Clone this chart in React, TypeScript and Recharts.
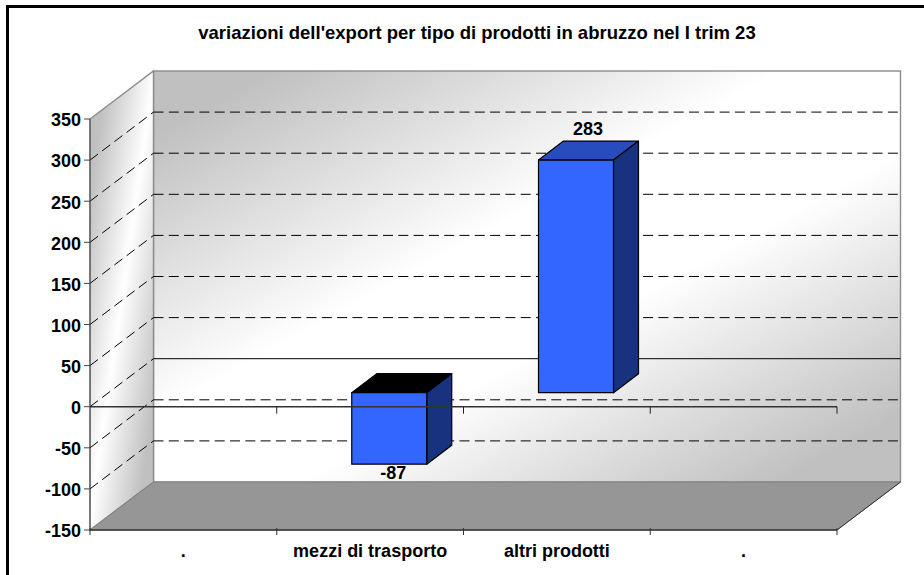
import React from 'react';
import { BarChart, Bar, XAxis, YAxis, ReferenceArea, ReferenceLine, LabelList } from 'recharts';

const categories = ['.', 'mezzi di trasporto', 'altri prodotti', '.'];
const values: (number | null)[] = [null, -87, 283, null];
const yTicks = [-150, -100, -50, 0, 50, 100, 150, 200, 250, 300, 350];
const gridValues = [-100, -50, 0, 50, 100, 150, 200, 250, 300];
const titleText = "variazioni dell'export per tipo di prodotti in abruzzo nel I trim 23";

const data = categories.map((c, i) => ({ key: i, name: c, value: values[i] }));

const FONT = '"Liberation Sans", Arial, sans-serif';
const DEPTH_X = 63.5;
const DEPTH_Y = 48;
const BAR_SHIFT_X = 19;
const BAR_SHIFT_Y = 14;
const BAR_DEPTH_X = 25;
const BAR_DEPTH_Y = 19;

function Walls(props: any) {
  const { x, y, width, height } = props;
  const r = x + width;
  const b = y + height;
  const bx = x + DEPTH_X;
  const by = y - DEPTH_Y;
  const bb = b - DEPTH_Y;
  const br = r + DEPTH_X;
  return (
    <g>
      <defs>
        <linearGradient id="backWall" gradientUnits="userSpaceOnUse" x1={354} y1={-39} x2={700} y2={591}>
          <stop offset="0.08" stopColor="#c0c0c0" />
          <stop offset="0.42" stopColor="#ffffff" />
          <stop offset="0.6" stopColor="#ffffff" />
          <stop offset="0.92" stopColor="#c0c0c0" />
        </linearGradient>
        <linearGradient id="sideWall" gradientUnits="userSpaceOnUse" x1={66} y1={292} x2={177} y2={308}>
          <stop offset="0.08" stopColor="#c0c0c0" />
          <stop offset="0.5" stopColor="#ffffff" />
          <stop offset="0.92" stopColor="#c0c0c0" />
        </linearGradient>
      </defs>
      <rect x={bx} y={by} width={width} height={height} fill="url(#backWall)" stroke="#8c8c8c" strokeWidth={1.4} />
      <polygon points={`${x},${y} ${bx},${by} ${bx},${bb} ${x},${b}`} fill="url(#sideWall)" stroke="#8c8c8c" strokeWidth={1.4} />
      <polygon points={`${x},${b} ${r},${b} ${br},${bb} ${bx},${bb}`} fill="#969696" stroke="#808080" strokeWidth={1} />
      <line x1={r} y1={b} x2={br} y2={bb} stroke="#333" strokeWidth={1} />
    </g>
  );
}

function GridPair(props: any) {
  const { x1, x2, y1 } = props;
  const solid = props.solid;
  return (
    <g>
      <line x1={x1} y1={y1} x2={x1 + DEPTH_X} y2={y1 - DEPTH_Y} stroke="#000" strokeWidth={1} strokeDasharray="10 5.3" />
      <line
        x1={x1 + DEPTH_X}
        y1={y1 - DEPTH_Y}
        x2={x2 + DEPTH_X}
        y2={y1 - DEPTH_Y}
        stroke="#000"
        strokeWidth={1}
        strokeDasharray={solid ? undefined : '10 5.3'}
      />
    </g>
  );
}

function ZeroAxis(props: any) {
  const { x1, x2, y1 } = props;
  const band = (x2 - x1) / categories.length;
  return (
    <g>
      <line x1={x1} y1={y1} x2={x2} y2={y1} stroke="#333" strokeWidth={1.6} />
      {categories.map((_, i) => (
        <line key={i} x1={x1 + band * (i + 1)} y1={y1} x2={x1 + band * (i + 1)} y2={y1 + 7} stroke="#222" strokeWidth={1} />
      ))}
    </g>
  );
}

function Bar3D(props: any) {
  const { x, y, width, height, value } = props;
  if (value == null || !height) return null;
  const v = Array.isArray(value) ? value[1] : value;
  const top = Math.min(y, y + height) - BAR_SHIFT_Y;
  const h = Math.abs(height);
  const l = x + BAR_SHIFT_X;
  const r = l + width;
  const dx = BAR_DEPTH_X;
  const dy = BAR_DEPTH_Y;
  const topFill = v < 0 ? '#000000' : '#264cbf';
  return (
    <g stroke="#000" strokeWidth={1.2} strokeLinejoin="round">
      <polygon points={`${l},${top} ${r},${top} ${r + dx},${top - dy} ${l + dx},${top - dy}`} fill={topFill} />
      <polygon points={`${r},${top} ${r + dx},${top - dy} ${r + dx},${top + h - dy} ${r},${top + h}`} fill="#19327f" />
      <rect x={l} y={top} width={width} height={h} fill="#3366ff" />
    </g>
  );
}

function ValueLabel(props: any) {
  const { x, y, width, height, value } = props;
  if (value == null) return null;
  const isNeg = value < 0;
  const top = Math.min(y, y + height) - BAR_SHIFT_Y;
  const h = Math.abs(height);
  const cx = x + BAR_SHIFT_X + width / 2 + (isNeg ? 4 : BAR_DEPTH_X / 2 - 0.5);
  const ty = isNeg ? top + h + 9 : top - BAR_DEPTH_Y - 12;
  return (
    <text x={cx} y={ty} textAnchor="middle" dominantBaseline="central" fontFamily={FONT} fontWeight="bold" fontSize={18} fill="#000">
      {value}
    </text>
  );
}

function XTick(props: any) {
  const { x, y, width, index, payload } = props;
  const band = width / categories.length;
  const left = x - band / 2;
  const axisY = y - 8;
  return (
    <g>
      <line x1={left} y1={axisY} x2={left} y2={axisY + 7} stroke="#333" strokeWidth={1} />
      {index === categories.length - 1 && (
        <line x1={left + band} y1={axisY} x2={left + band} y2={axisY + 7} stroke="#333" strokeWidth={1} />
      )}
      <text x={x} y={axisY + 23} textAnchor="middle" dominantBaseline="central" fontFamily={FONT} fontWeight="bold" fontSize={18} fill="#000">
        {categories[payload.value]}
      </text>
    </g>
  );
}

export default function App() {
  return (
    <div style={{ position: 'absolute', left: 0, top: 0, width: 924, height: 575, overflow: 'hidden', background: '#fff' }}>
      <div style={{ position: 'absolute', left: 6, top: 5, width: 918, height: 570, borderLeft: '3px solid #000', borderTop: '3px solid #000' }} />
      <div
        style={{
          position: 'absolute',
          left: 0,
          width: 954,
          top: 23,
          textAlign: 'center',
          fontFamily: FONT,
          fontWeight: 'bold',
          fontSize: 18.5,
          lineHeight: '20px',
          color: '#000',
        }}
      >
        {titleText}
      </div>
      <BarChart
        width={924}
        height={575}
        data={data}
        margin={{ top: 119, right: 87, bottom: 0, left: 30 }}
        barSize={75}
        style={{ position: 'absolute', left: 0, top: 0 }}
      >
        <ReferenceArea y1={-150} y2={350} yAxisId={0} xAxisId={0} shape={<Walls />} ifOverflow="visible" zIndex={-10} />
        {gridValues.map((v) => (
          <ReferenceLine key={v} y={v} ifOverflow="visible" zIndex={-5} shape={<GridPair solid={v === 0} />} />
        ))}
        <XAxis
          dataKey="key"
          type="category"
          height={45}
          axisLine={{ stroke: '#333', strokeWidth: 1.6 }}
          tickLine={false}
          tickMargin={0}
          tick={<XTick />}
          interval={0}
        />
        <YAxis
          domain={[-150, 350]}
          ticks={yTicks}
          width={60}
          interval={0}
          tickSize={6}
          tickMargin={3}
          axisLine={{ stroke: '#444', strokeWidth: 1 }}
          tickLine={{ stroke: '#444', strokeWidth: 1 }}
          tick={{ fontFamily: FONT, fontWeight: 'bold', fontSize: 18, fill: '#000', dy: 1 }}
        />
        <Bar dataKey="value" shape={<Bar3D />} isAnimationActive={false}>
          <LabelList dataKey="value" content={<ValueLabel />} />
        </Bar>
        <ReferenceLine y={0} ifOverflow="visible" zIndex={900} shape={<ZeroAxis />} />
      </BarChart>
    </div>
  );
}
